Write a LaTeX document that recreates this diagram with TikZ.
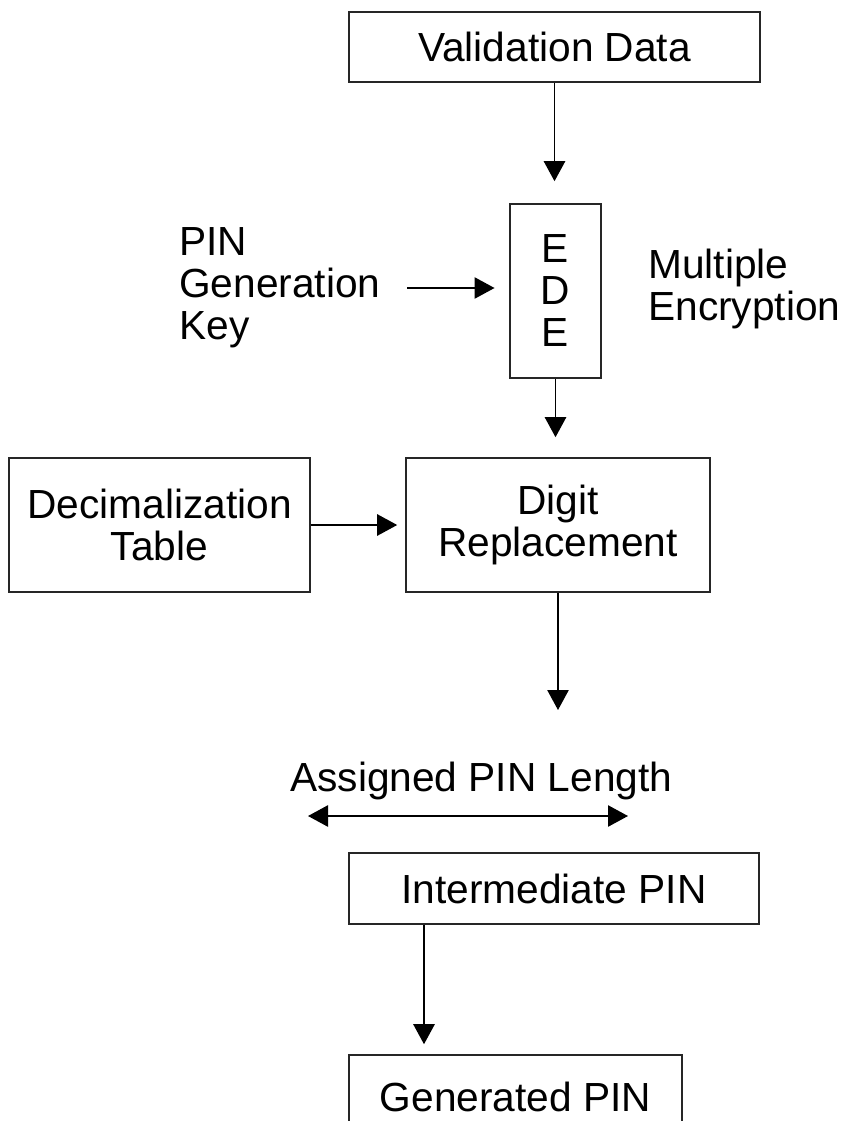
\documentclass[tikz,border=0pt]{standalone}
\usepackage{fontspec}
\setmainfont{Liberation Sans}
\usetikzlibrary{arrows.meta}

\begin{document}
\begin{tikzpicture}[x=0.75pt,y=-0.75pt,
        font=\fontsize{30.5}{31.5}\selectfont,
        >={Triangle[length=15pt,width=16pt]},
        box/.style={draw=black!85,line width=1.2pt,inner sep=0pt,align=center},
        lbl/.style={inner sep=0pt,align=left},
        flow/.style={->,line width=1.1pt}]
    \useasboundingbox (0,0) rectangle (848,1121);

    \node[box,minimum width=308.25pt,minimum height=52.5pt] (val) at (554.5,47) {Validation Data};
    \node[box,minimum width=68.25pt,minimum height=130.5pt] (ede) at (555.5,291) {E\\D\\E};
    \node[lbl,anchor=west] (key) at (179,288) {PIN\\Generation\\Key};
    \node[lbl,anchor=west] (multi) at (648,289) {Multiple\\Encryption};
    \node[box,minimum width=225.75pt,minimum height=100.5pt] (dec) at (159.5,525) {Decimalization\\Table};
    \node[box,minimum width=228pt,minimum height=100.5pt] (digit) at (558,525) {Digit\\Replacement};
    \node[lbl,anchor=west] (len) at (290,781) {Assigned PIN Length};
    \node[box,minimum width=307.5pt,minimum height=53.25pt] (inter) at (554,888.5) {Intermediate PIN};
    \node[box,minimum width=249.75pt,minimum height=63pt] (gen) at (515.5,1097) {Generated PIN};

    \coordinate (lentop) at (558,710);
    \coordinate (lenL) at (308,816);
    \coordinate (lenR) at (628,816);
    \coordinate (drop) at (424,0);

    \draw[flow,shorten >=16.5pt] (val.south) -- (val.south |- ede.north);
    \draw[flow,shorten <=20pt,shorten >=11pt] (key.east) -- (key.east -| ede.west);
    \draw[flow,shorten >=15pt] (ede.south) -- (ede.south |- digit.north);
    \draw[flow,shorten >=6pt] (dec.east) -- (dec.east -| digit.west);
    \draw[flow] (digit.south) -- (lentop);
    \draw[flow,<->] (lenL) -- (lenR);
    \draw[flow,shorten >=7.5pt] (drop |- inter.south) -- (drop |- gen.north);
\end{tikzpicture}
\end{document}
